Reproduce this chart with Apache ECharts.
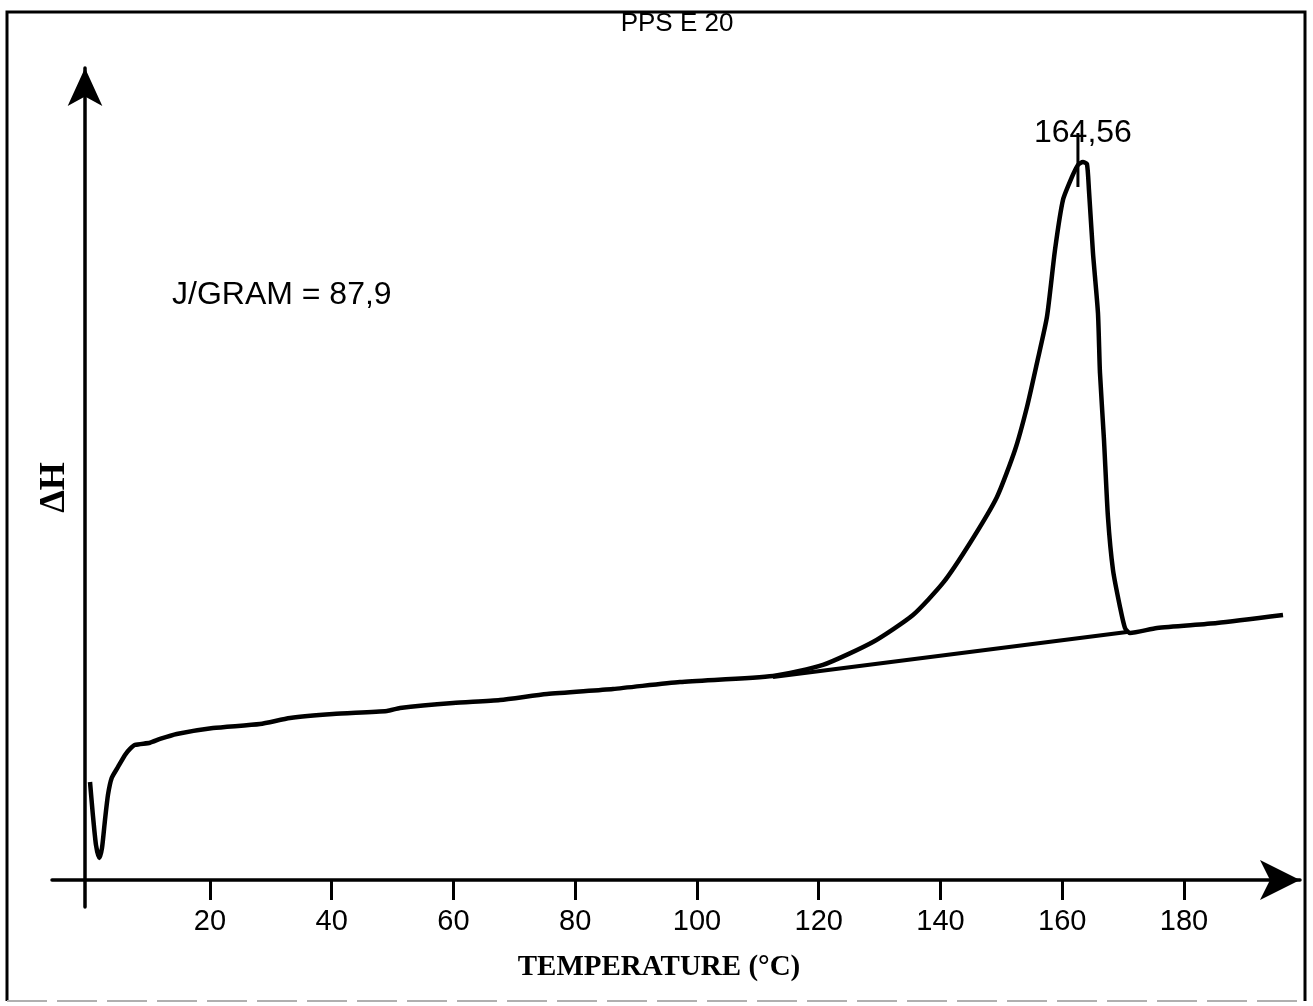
<!DOCTYPE html>
<html><head><meta charset="utf-8">
<script src="https://cdn.jsdelivr.net/npm/echarts@6/dist/echarts.min.js"></script>
<style>html,body{margin:0;padding:0;background:#fff}#c{width:1313px;height:1006px}</style>
</head><body><div id="c"></div>
<script>
// Temperature (°C) and ΔH (arbitrary units)
const temperature = [0.29,0.73,1.27,1.82,2.26,2.75,3.24,3.85,4.89,6.04,6.86,7.68,10.14,11.79,14.53,20.49,28.21,33.14,40.2,49.07,51.21,59.92,67.64,75.36,86.2,97.2,112.48,120.69,128.9,135.48,140.41,144.85,149.28,152.24,154.21,155.85,157.49,158.81,160.12,161.6,162.58,163.4,164.06,164.39,165.05,165.87,166.2,166.86,167.51,168.34,169.49,170.31,171.13,175.57,185.42,196.27];
const deltaH = [12.25,8.38,4.38,2.75,4.0,7.5,10.63,12.75,14.13,15.63,16.38,16.88,17.16,17.63,18.25,19.0,19.5,20.25,20.75,21.13,21.5,22.13,22.5,23.25,23.88,24.75,25.5,26.88,29.75,33.13,37.13,42.13,47.88,53.75,59.13,64.63,70.38,78.75,85.0,87.88,89.38,89.75,89.5,86.25,78.38,70.88,63.38,55.0,45.38,38.75,34.13,31.5,30.88,31.5,32.13,33.13];
const baselineT = [112.48,170.64];
const baselineH = [25.38,31.0];
const peakMarkT = [162.58,162.58];
const peakMarkH = [93.38,86.63];
const peakLabel = '164,56';
const tickValues = [20,40,60,80,100,120,140,160,180];
const titleText = 'PPS E 20';
const xName = 'TEMPERATURE (°C)';
const yName = 'ΔH';
const noteText = 'J/GRAM = 87,9';

const zip = (a,b) => a.map((v,i)=>[v,b[i]]);
const chart = echarts.init(document.getElementById('c'), null, {renderer:'canvas'});
const sans = "'Liberation Sans', Arial, Helvetica, sans-serif";
const serif = "'Liberation Serif', 'Times New Roman', serif";
chart.setOption({
  animation:false,
  backgroundColor:'#fff',
  title:{text:titleText,left:672,top:6,textAlign:'center',textStyle:{fontFamily:sans,fontSize:26,fontWeight:'normal',color:'#000'}},
  grid:{left:52,right:13,top:68,bottom:99,containLabel:false},
  xAxis:{type:'value',min:-5.955,max:199.06,
    axisLine:{onZero:true,lineStyle:{color:'#000',width:3.5},symbol:['none','arrow'],symbolSize:[30,40]},
    axisTick:{show:true,customValues:tickValues,length:20,lineStyle:{color:'#000',width:3}},
    axisLabel:{show:true,customValues:tickValues,margin:0,color:'#000',fontFamily:sans,fontSize:29},
    splitLine:{show:false},
    name:xName,nameLocation:'middle',nameGap:46,
    nameTextStyle:{fontFamily:serif,fontWeight:'bold',fontSize:29,color:'#000',padding:[0,34,0,0]}
  },
  yAxis:{type:'value',min:-3.375,max:101.5,position:'left',offset:-33,
    axisLine:{show:true,onZero:false,lineStyle:{color:'#000',width:3.5},symbol:['none','arrow'],symbolSize:[26,38]},
    axisTick:{show:false},axisLabel:{show:false},splitLine:{show:false},
    name:yName,nameLocation:'middle',nameGap:12,nameRotate:90,
    nameTextStyle:{fontFamily:serif,fontWeight:'bold',fontSize:36,color:'#000'}
  },
  graphic:[
    {type:'polyline',shape:{points:[[7,1001],[7,12],[1305,12],[1305,1001]]},style:{stroke:'#000',lineWidth:3,fill:null},z:100},
    {type:'line',shape:{x1:7,y1:1001,x2:1305,y2:1001},style:{stroke:'#b0b0b0',lineWidth:2,lineDash:[40,10]},z:100},
    {type:'text',x:172,y:295,style:{text:noteText,fontFamily:sans,fontSize:32,fill:'#000',verticalAlign:'middle',align:'left'}}
  ],
  series:[
    {type:'line',data:zip(temperature,deltaH),showSymbol:false,symbol:'none',lineStyle:{color:'#000',width:4.5},smooth:0.2},
    {type:'line',data:zip(baselineT,baselineH),showSymbol:false,symbol:'none',lineStyle:{color:'#000',width:4}},
    {type:'line',data:zip(peakMarkT,peakMarkH),symbol:'none',lineStyle:{color:'#000',width:3},
      markPoint:{symbol:'circle',symbolSize:1,itemStyle:{color:'transparent'},
        data:[{coord:[peakMarkT[0],peakMarkH[0]],label:{show:true,formatter:peakLabel,position:'inside',offset:[5,0],color:'#000',fontFamily:sans,fontSize:32}}]}}
  ]
});
</script></body></html>
